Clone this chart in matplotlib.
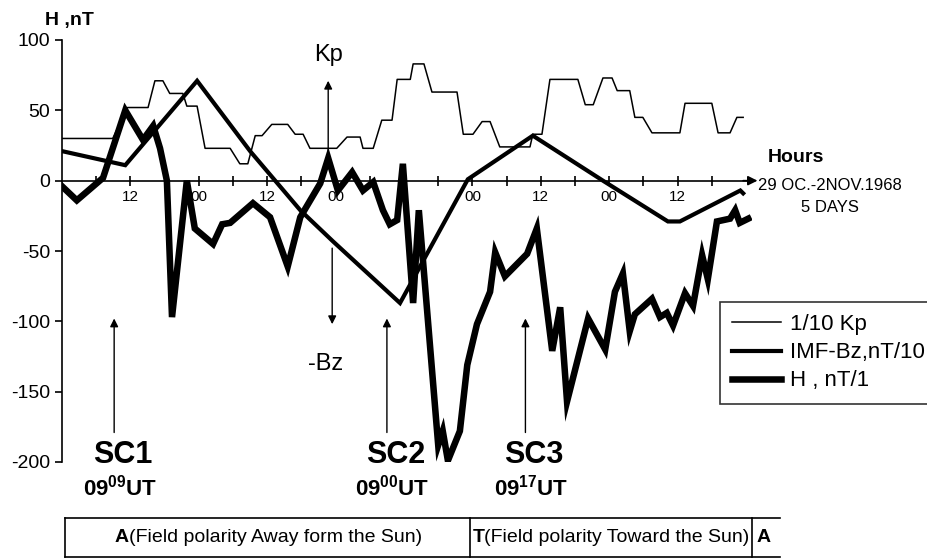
import numpy as np
import matplotlib
matplotlib.use("Agg")
import matplotlib.pyplot as plt
import matplotlib.transforms as mtransforms
from matplotlib.lines import Line2D

plt.rcParams['font.family'] = ['Liberation Sans', 'DejaVu Sans']
plt.rcParams['axes.unicode_minus'] = False
plt.rcParams['mathtext.fontset'] = 'custom'
plt.rcParams['mathtext.bf'] = 'Liberation Sans:bold'
plt.rcParams['mathtext.rm'] = 'Liberation Sans'

# hours from 00 UT, 29 Oct 1968
kp_hours = [0, 8.9, 11.5, 15.1, 16.3, 17.7, 18.9, 21.2, 21.9, 23.7, 25.1, 29.5, 31.2, 32.6,
            33.9, 35.1, 36.8, 39.6, 40.9, 42.3, 43.5, 48.2, 50.0, 52.3, 52.8, 54.6, 56.1,
            57.9, 58.8, 61.1, 61.6, 63.5, 64.9, 69.3, 70.4, 72.1, 73.7, 75.1, 76.8, 82.1,
            82.6, 84.2, 85.6, 90.5, 91.8, 93.2, 94.9, 96.5, 97.4, 99.6, 100.5, 101.9,
            103.5, 108.4, 109.3, 114.0, 115.1, 117.2, 118.4, 119.5]
kp_values = [30, 30, 52, 52, 71, 71, 62, 62, 53, 53, 23, 23, 12, 12,
             32, 32, 40, 40, 33, 33, 23, 23, 31, 31, 23, 23, 43,
             43, 72, 72, 83, 83, 63, 63, 33, 33, 42, 42, 24, 24,
             33, 33, 72, 72, 54, 54, 73, 73, 64, 64, 45, 45,
             34, 34, 55, 55, 34, 34, 45, 45]

bz_hours = [0, 11.1, 23.7, 33.0, 41.8, 47.5, 59.3, 71.2, 82.6, 94.9, 106.3, 108.4, 119.0, 119.5]
bz_values = [21, 11, 71, 21, -21, -43, -87, 1, 32, 0, -29, -29, -7, -9]

h_hours = [0, 2.6, 7.2, 11.1, 14.2, 16.0, 17.2, 18.4, 19.3, 21.9, 23.3, 26.5, 28.1, 29.5,
           33.5, 36.5, 39.6, 41.8, 45.3, 46.7, 48.4, 50.9, 52.8, 54.6, 56.3, 57.5, 58.8,
           59.8, 61.6, 62.6, 66.0, 66.8, 67.7, 69.8, 71.1, 72.8, 75.1, 76.0, 77.7, 81.6,
           83.3, 86.0, 87.4, 88.6, 92.3, 95.3, 97.0, 98.4, 99.6, 100.5, 103.5, 104.9,
           106.1, 107.2, 109.3, 110.7, 112.3, 113.3, 114.9, 117.2, 118.1, 118.9, 120.4]
h_values = [-4, -14, 2, 50, 29, 39, 23, 0, -97, 0, -34, -45, -31, -30,
            -16, -26, -61, -26, -2, 16, -7, 6, -7, -1, -21, -31, -28,
            12, -87, -21, -188, -178, -199, -178, -131, -102, -79, -51, -68, -52,
            -34, -121, -90, -157, -98, -120, -79, -66, -107, -95, -84, -97,
            -94, -103, -80, -89, -53, -70, -29, -27, -21, -30, -27]

tick_hours = [12, 24, 36, 48, 60, 72, 84, 96, 108]
tick_labels = ['12', '00', '12', '00', '', '00', '12', '00', '12']

sc_names = ['SC1', 'SC2', 'SC3']
sc_hours = [9.15, 57.0, 81.3]
sc_times = ['09', '00', '17']

sector_names = ['A', 'T', 'A']
sector_text = ['(Field polarity Away form the Sun)', '(Field polarity Toward the Sun)', '']
sector_edges = [0.5, 71.6, 121.0, 126.0]

fig = plt.figure(figsize=(9.27, 5.58), dpi=100)
ax = fig.add_axes([62 / 927, 96 / 558, 690 / 927, 422 / 558])

ax.plot(kp_hours, kp_values, color='black', lw=1.1)
ax.plot(bz_hours, bz_values, color='black', lw=3.0, solid_joinstyle='miter')
ax.plot(h_hours, h_values, color='black', lw=4.7, solid_joinstyle='miter')

ax.set_xlim(0, 121.05)
ax.set_ylim(-200, 100)
ax.spines['top'].set_visible(False)
ax.spines['right'].set_visible(False)
ax.spines['bottom'].set_position(('data', 0))
ax.spines['left'].set_linewidth(1.2)
ax.spines['bottom'].set_linewidth(1.2)
ax.set_yticks(np.arange(-200, 101, 50))
ax.tick_params(axis='y', labelsize=14, length=5, width=1.2)
ax.set_xticks(tick_hours)
ax.set_xticklabels(tick_labels)
ax.set_xticks(np.arange(6, 121, 12), minor=True)
ax.tick_params(axis='x', which='both', direction='inout', length=7, width=1.2, labelsize=11, pad=3)
ax.annotate('', xy=(122.5, 0), xytext=(119, 0), annotation_clip=False,
            arrowprops=dict(arrowstyle='-|>', color='black', lw=1.2, mutation_scale=14))

fig.text(45 / 927, 1 - 21 / 558, 'H ,nT', fontsize=14, fontweight='bold', va='center')
fig.text(768 / 927, 1 - 158 / 558, 'Hours', fontsize=14, fontweight='bold', va='center')
fig.text(830 / 927, 1 - 185 / 558, '29 OC.-2NOV.1968', fontsize=12, ha='center', va='center')
fig.text(830 / 927, 1 - 208 / 558, '5 DAYS', fontsize=12, ha='center', va='center')

# Kp / -Bz arrows
ax.annotate('', xy=(46.7, 73), xytext=(46.7, 16),
            arrowprops=dict(arrowstyle='-|>', color='black', lw=1.0, mutation_scale=12))
ax.text(46.8, 89, 'Kp', fontsize=17, ha='center', va='center')
ax.annotate('', xy=(47.4, -104), xytext=(47.4, -46),
            arrowprops=dict(arrowstyle='-|>', color='black', lw=1.0, mutation_scale=12))
ax.text(46.3, -130, '-Bz', fontsize=17, ha='center', va='center')

# sudden commencements
for name, hr, mins in zip(sc_names, sc_hours, sc_times):
    ax.annotate('', xy=(hr, -96), xytext=(hr, -181), annotation_clip=False,
                arrowprops=dict(arrowstyle='-|>', color='black', lw=1.0, mutation_scale=12))
    ax.text(hr + 1.5, -195, name, fontsize=22, fontweight='bold', ha='center', va='center',
            clip_on=False)
    ax.text(hr + 1.0, -218, r'09$^{\mathbf{' + mins + r'}}$UT', fontsize=16, fontweight='bold',
            ha='center', va='center', clip_on=False)

# polarity sectors below the axes
trans = mtransforms.blended_transform_factory(ax.transData, fig.transFigure)
y_top, y_bot = 1 - 518 / 558, 1 - 557 / 558
ax.add_line(Line2D([sector_edges[0], sector_edges[-1]], [y_top, y_top], transform=trans,
                   color='black', lw=1.2, clip_on=False))
ax.add_line(Line2D([sector_edges[0], sector_edges[-1]], [y_bot, y_bot], transform=trans,
                   color='black', lw=1.2, clip_on=False))
for edge in sector_edges[:-1]:
    ax.add_line(Line2D([edge, edge], [y_bot, y_top], transform=trans,
                       color='black', lw=1.2, clip_on=False))
y_mid = (y_top + y_bot) / 2
for i, (nm, txt) in enumerate(zip(sector_names, sector_text)):
    if txt:
        x0 = (sector_edges[i] + sector_edges[i + 1]) / 2
        t = ax.text(x0, y_mid, nm + txt, transform=trans, fontsize=14, ha='center',
                    va='center', color='none', clip_on=False)
        fig.canvas.draw()
        bb = t.get_window_extent()
        t.remove()
        xl = ax.transData.inverted().transform((bb.x0, 0))[0]
        a = ax.text(xl, y_mid, nm, transform=trans, fontsize=14, fontweight='bold',
                    ha='left', va='center', clip_on=False)
        ax.annotate(txt, xy=(1, 0.5), xycoords=a, fontsize=14, ha='left', va='center')
    else:
        ax.text(sector_edges[i] + 0.9, y_mid, nm, transform=trans, fontsize=14,
                fontweight='bold', ha='left', va='center', clip_on=False)

handles = [Line2D([], [], color='black', lw=1.1), Line2D([], [], color='black', lw=3.0),
           Line2D([], [], color='black', lw=4.7)]
leg = fig.legend(handles, ['1/10 Kp', 'IMF-Bz,nT/10', 'H , nT/1'], loc='upper left',
                 bbox_to_anchor=(720 / 927, 1 - 302 / 558), fontsize=16, frameon=True,
                 fancybox=False, edgecolor='black', handlelength=2.2, handletextpad=0.4,
                 labelspacing=0.32, borderaxespad=0, borderpad=0.55)
leg.get_frame().set_linewidth(1.2)

fig.savefig('out.png', dpi=100)
